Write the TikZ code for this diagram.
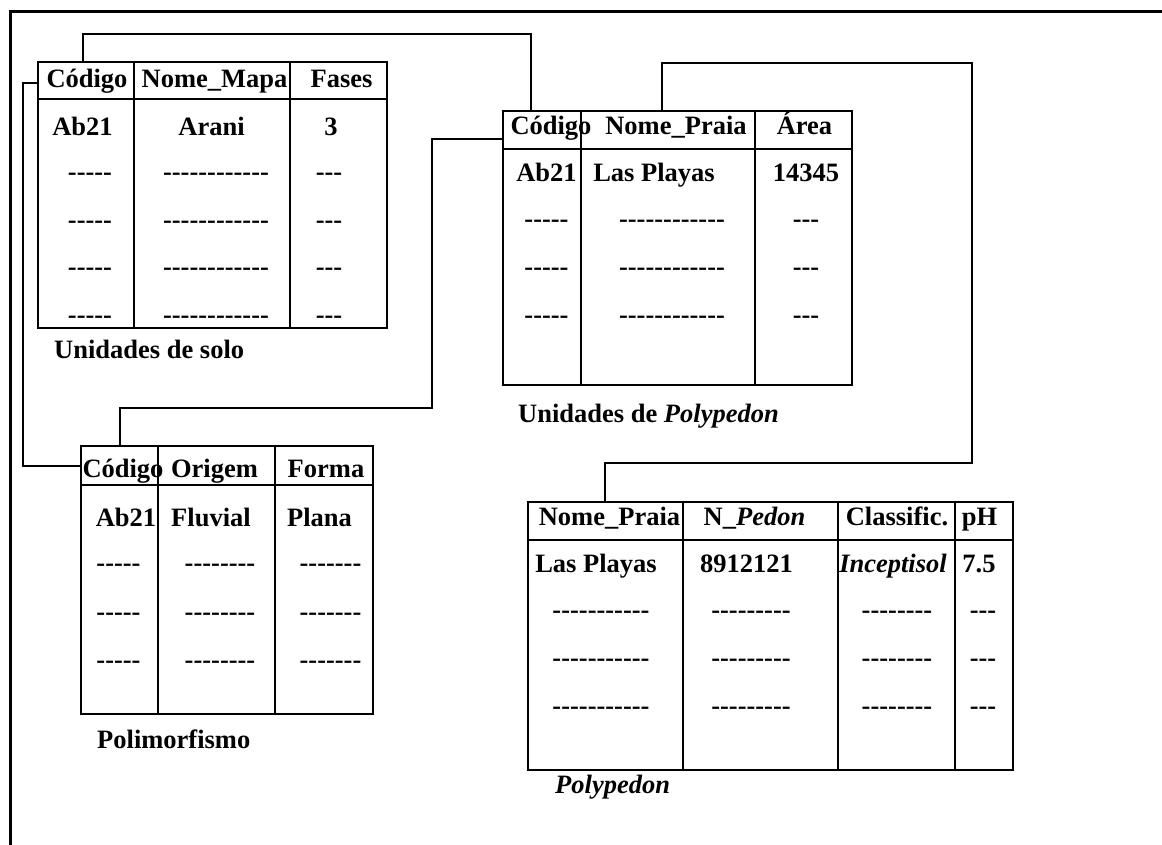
\documentclass[tikz,border=0pt]{standalone}
\usepackage{fontspec}
\setmainfont{Liberation Serif}
\usetikzlibrary{calc}
\tikzset{
  tbl/.style={draw, line width=1.7pt, inner sep=0pt, outer sep=0pt, anchor=north west},
  grade/.style={line width=1.7pt},
  link/.style={line width=1.4pt},
  cel/.style={anchor=base, inner sep=0pt},
  rot/.style={anchor=base west, inner sep=0pt}
}
\newcommand\traco[1]{\foreach \k in {1,...,#1}{-\kern0pt}}

\begin{document}
\begin{tikzpicture}[x=1pt,y=-1pt,font=\fontsize{26.5}{30}\selectfont\bfseries]
\useasboundingbox (0,0) rectangle (1162,845);
\draw[line width=3pt] (10,845) -- (10,12) -- (1162,12);

\node[tbl, minimum width=349pt, minimum height=266pt] (solo) at (38,62) {};
\node[tbl, minimum width=349pt, minimum height=274pt] (unid) at (503,111) {};
\node[tbl, minimum width=292pt, minimum height=268pt] (poli) at (81,446) {};
\node[tbl, minimum width=485pt, minimum height=268pt] (pedon) at (528,502) {};

\draw[grade] (38,99) -- (387,99);
\foreach \x in {134,290} \draw[grade] (\x,62) -- (\x,328);
\draw[grade] (503,149) -- (852,149);
\foreach \x in {581,755} \draw[grade] (\x,111) -- (\x,385);
\draw[grade] (81,485) -- (373,485);
\foreach \x in {158,275} \draw[grade] (\x,446) -- (\x,714);
\draw[grade] (528,540) -- (1013,540);
\foreach \x in {683,838,955} \draw[grade] (\x,502) -- (\x,770);

\foreach \t/\x [count=\i] in {Código/87, Nome\_Mapa/214.5, Fases/341.5}
  \node[cel] (solo-h\i) at (\x,88) {\t};
\foreach \t/\x [count=\i] in {Ab21/82.5, Arani/211.5, 3/331}
  \node[cel] (solo-a\i) at (\x,136) {\t};
\foreach \y [count=\j] in {181,228.5,276,323.5}
  \foreach \n/\x [count=\i] in {5/90, 12/216, 3/329}
    \node[cel] (solo-\j-\i) at (\x,\y) {\traco{\n}};

\foreach \t/\x [count=\i] in {Código/551, Nome\_Praia/676, Área/804.5}
  \node[cel] (unid-h\i) at (\x,135) {\t};
\foreach \t/\x [count=\i] in {Ab21/546.5, Las Playas/654, 14345/806}
  \node[cel] (unid-a\i) at (\x,182) {\t};
\foreach \y [count=\j] in {228,276,323}
  \foreach \n/\x [count=\i] in {5/546.5, 12/672, 3/806}
    \node[cel] (unid-\j-\i) at (\x,\y) {\traco{\n}};

\foreach \t/\x [count=\i] in {Código/123, Origem/214.5, Forma/326}
  \node[cel] (poli-h\i) at (\x,477) {\t};
\foreach \t/\x [count=\i] in {Ab21/126, Fluvial/211, Plana/319.5}
  \node[cel] (poli-a\i) at (\x,526) {\t};
\foreach \y [count=\j] in {571,620,668}
  \foreach \n/\x [count=\i] in {5/118.5, 8/220, 7/330.5}
    \node[cel] (poli-\j-\i) at (\x,\y) {\traco{\n}};

\foreach \t/\x [count=\i] in {Nome\_Praia/609.5, {N\_\textit{Pedon}}/754.5, Classific./897, pH/979.5}
  \node[cel] (pedon-h\i) at (\x,525) {\t};
\foreach \t/\x [count=\i] in {Las Playas/596, 8912121/746.5, {\textit{Inceptisol}}/893, 7.5/979}
  \node[cel] (pedon-a\i) at (\x,572) {\t};
\foreach \y [count=\j] in {618,666,714}
  \foreach \n/\x [count=\i] in {11/601, 9/751, 8/897, 3/983}
    \node[cel] (pedon-\j-\i) at (\x,\y) {\traco{\n}};

\node[rot] (rot-solo) at (54,358) {Unidades de solo};
\node[rot] (rot-unid) at (518,422) {Unidades de \textit{Polypedon}};
\node[rot] (rot-poli) at (97,748) {Polimorfismo};
\node[rot] (rot-pedon) at (555,793) {\textit{Polypedon}};

\coordinate (solo-cod) at ([xshift=45pt]solo.north west);
\coordinate (solo-esq) at ([yshift=-21pt]solo.north west);
\coordinate (unid-cod) at ([xshift=28pt]unid.north west);
\coordinate (unid-esq) at ([yshift=-28pt]unid.north west);
\coordinate (unid-nome) at ([xshift=159pt]unid.north west);
\coordinate (poli-cod) at ([xshift=39pt]poli.north west);
\coordinate (poli-esq) at ([yshift=-20pt]poli.north west);
\coordinate (pedon-nome) at ([xshift=77pt]pedon.north west);

\draw[link] (solo-cod) -- ++(0,-28) -| (unid-cod);
\draw[link] (solo-esq) -- ++(-15,0) |- (poli-esq);
\draw[link] (unid-esq) -- ++(-71,0) -- ++(0,269) -| (poli-cod);
\draw[link] (unid-nome) -- ++(0,-48) -- ++(310,0) -- ++(0,400) -| (pedon-nome);
\end{tikzpicture}
\end{document}
